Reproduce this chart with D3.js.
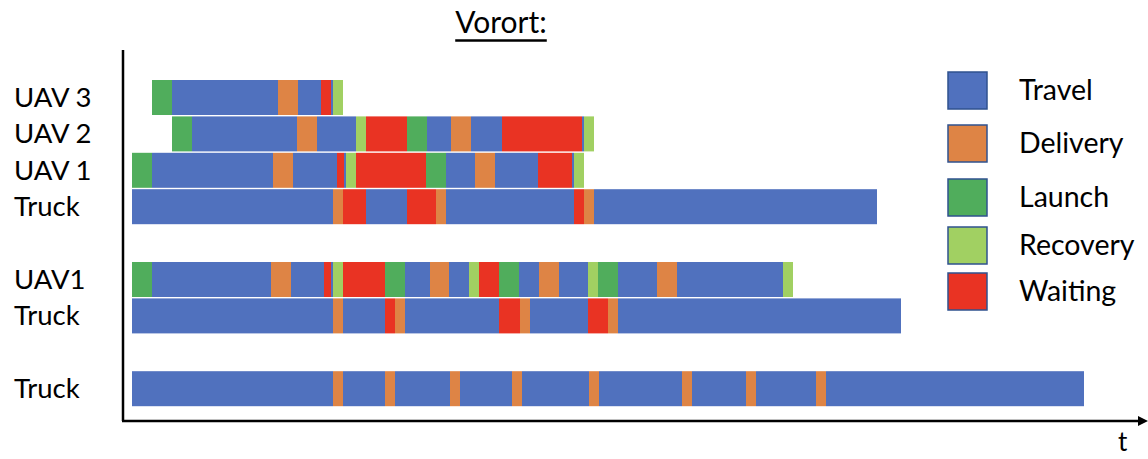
<!DOCTYPE html>
<html><head><meta charset="utf-8">
<script src="https://cdn.jsdelivr.net/npm/d3@7"></script>
<style>
html,body{margin:0;padding:0;background:#fff;}
text{font-family:Lato,"Liberation Sans",sans-serif;fill:#000;}
</style></head>
<body><svg id="c" width="1148" height="459"></svg>
<script>
// ---------- data ----------
const states = ["Travel","Delivery","Launch","Recovery","Waiting"];
const stateColors = ["#5071be","#de8445","#50ad5c","#a1d062","#e93323"];
const rowLabels = ["UAV 3","UAV 2","UAV 1","Truck","UAV1","Truck","Truck"];
const rowSlots = [0,1,2,3,5,6,8];
// segments: [state, start, end] (time units)
const uav3A = [["Launch",20,40],["Travel",40,146],["Delivery",146,166],["Travel",166,189],["Waiting",189,199],["Travel",199,201],["Recovery",201,211]];
const uav2A = [["Launch",40,60],["Travel",60,165],["Delivery",165,185],["Travel",185,224],["Recovery",224,234],["Waiting",234,275],["Launch",275,295],["Travel",295,319],["Delivery",319,339],["Travel",339,370],["Waiting",370,450],["Travel",450,452],["Recovery",452,462]];
const uav1A = [["Launch",0,20],["Travel",20,141],["Delivery",141,161],["Travel",161,205],["Waiting",205,212],["Travel",212,214],["Recovery",214,224],["Waiting",224,294],["Launch",294,314],["Travel",314,343],["Delivery",343,363],["Travel",363,406],["Waiting",406,440],["Travel",440,442],["Recovery",442,452]];
const truckA = [["Travel",0,201],["Delivery",201,211],["Waiting",211,234],["Travel",234,275],["Waiting",275,304],["Delivery",304,314],["Travel",314,442],["Waiting",442,452],["Delivery",452,462],["Travel",462,745]];
const uav1B = [["Launch",0,20],["Travel",20,139],["Delivery",139,159],["Travel",159,192],["Waiting",192,199],["Travel",199,201],["Recovery",201,211],["Waiting",211,253],["Launch",253,273],["Travel",273,298],["Delivery",298,317],["Travel",317,337],["Recovery",337,347],["Waiting",347,367],["Launch",367,387],["Travel",387,407],["Delivery",407,427],["Travel",427,456],["Recovery",456,466],["Launch",466,486],["Travel",486,525],["Delivery",525,545],["Travel",545,651],["Recovery",651,661]];
const truckB = [["Travel",0,201],["Delivery",201,211],["Travel",211,253],["Waiting",253,263],["Delivery",263,273],["Travel",273,367],["Waiting",367,388],["Delivery",388,398],["Travel",398,456],["Waiting",456,476],["Delivery",476,486],["Travel",486,769]];
const truckC = [["Travel",0,201],["Delivery",201,211],["Travel",211,253],["Delivery",253,263],["Travel",263,318],["Delivery",318,328],["Travel",328,380],["Delivery",380,390],["Travel",390,457],["Delivery",457,467],["Travel",467,550],["Delivery",550,560],["Travel",560,614],["Delivery",614,624],["Travel",624,684],["Delivery",684,694],["Travel",694,952]];
const rows = [uav3A, uav2A, uav1A, truckA, uav1B, truckB, truckC];
const title = "Vorort:";
const axisLabel = "t";

// ---------- drawing ----------
const svg = d3.select("#c");
const x = d3.scaleLinear().domain([0,1000]).range([132,1132]);
const y = d3.scaleLinear().domain([0,1]).range([80,116.4]);
const barH = 35;
const color = d3.scaleOrdinal().domain(states).range(stateColors);

rows.forEach((segs,i)=>{
  const slot = rowSlots[i];
  svg.append("g").selectAll("rect").data(segs).join("rect")
    .attr("x", d=>x(d[1])).attr("y", y(slot))
    .attr("width", d=>x(d[2])-x(d[1])).attr("height", barH)
    .attr("fill", d=>color(d[0]));
  svg.append("text").attr("x",14).attr("y", y(slot)+barH/2-1)
    .attr("dominant-baseline","central").attr("font-size",27.5).text(rowLabels[i]);
});

// axes
svg.append("line").attr("x1",123).attr("x2",123).attr("y1",50).attr("y2",421)
  .attr("stroke","#000").attr("stroke-width",2.5);
svg.append("line").attr("x1",122).attr("x2",1140).attr("y1",421).attr("y2",421)
  .attr("stroke","#000").attr("stroke-width",2.5);
svg.append("path").attr("d","M1148,421 L1138,416 L1138,426 Z").attr("fill","#000");
svg.append("text").attr("x",1118).attr("y",451).attr("font-size",26).text(axisLabel);

// title
const tt = svg.append("text").attr("x",501).attr("y",33).attr("text-anchor","middle")
  .attr("font-size",30).text(title);
const tb = tt.node().getBBox();
svg.append("line").attr("x1",tb.x).attr("x2",tb.x+tb.width).attr("y1",40.5).attr("y2",40.5)
  .attr("stroke","#000").attr("stroke-width",2.5);

// legend
const lg = svg.append("g");
const legY = [72,125,179,227,273];
states.forEach((s,i)=>{
  lg.append("rect").attr("x",948).attr("y",legY[i]).attr("width",39).attr("height",37)
    .attr("fill",stateColors[i]).attr("stroke","#2f528f").attr("stroke-width",1.5);
  lg.append("text").attr("x",1019).attr("y",legY[i]+17).attr("dominant-baseline","central")
    .attr("font-size",28.5).text(s);
});
</script></body></html>
